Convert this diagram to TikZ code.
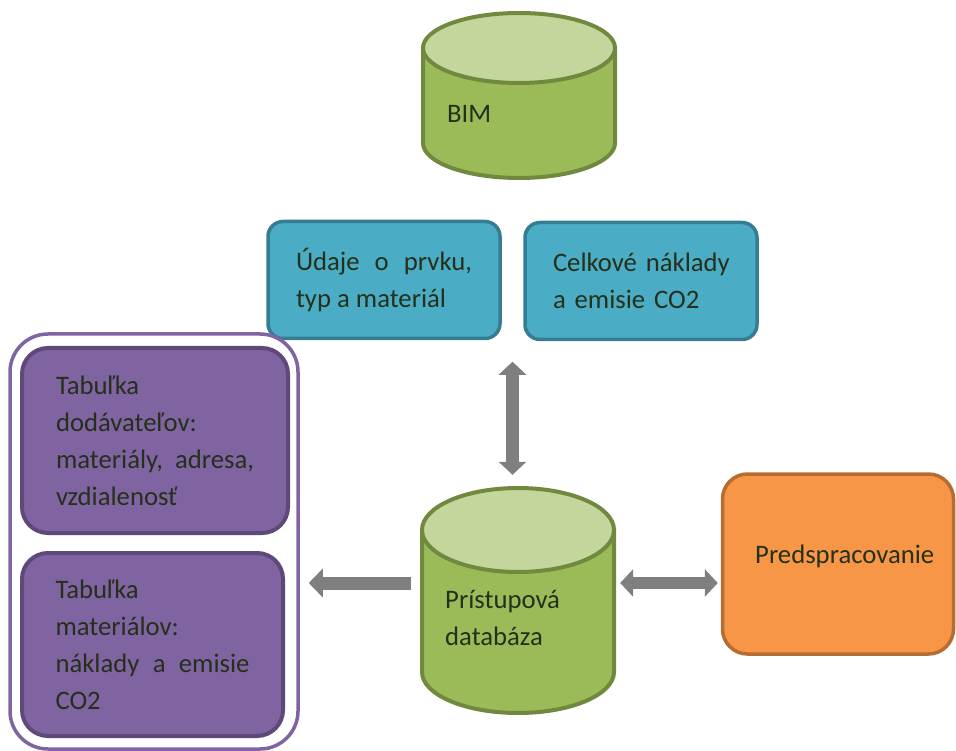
\documentclass[tikz,border=0pt]{standalone}
\usepackage{fontspec}
\setmainfont{Carlito}
\usetikzlibrary{arrows.meta,calc}

\definecolor{ink}{RGB}{36,48,25}
\definecolor{cylbodyfill}{RGB}{155,187,89}
\definecolor{cyltopfill}{RGB}{195,214,155}
\definecolor{cylline}{RGB}{113,137,62}
\definecolor{bluefill}{RGB}{75,172,198}
\definecolor{blueline}{RGB}{53,126,145}
\definecolor{purplefill}{RGB}{128,100,162}
\definecolor{purpleline}{RGB}{94,73,122}
\definecolor{orangefill}{RGB}{247,150,70}
\definecolor{orangeline}{RGB}{182,109,49}
\definecolor{arrowgray}{RGB}{127,127,127}

\begin{document}
\begin{tikzpicture}[x=1pt,y=1pt,
  txt/.style={text=ink,inner sep=0pt,font=\fontsize{26.7}{37}\selectfont},
  bluebox/.style={txt,draw=blueline,fill=bluefill,line width=3.5pt,rounded corners=15pt,
    minimum width=232pt,minimum height=117pt,text width=176pt,align=justify},
  purplebox/.style={txt,draw=purpleline,fill=purplefill,line width=4pt,rounded corners=26pt,
    align=justify},
  cylbody/.style={draw=cylline,fill=cylbodyfill,line width=4pt},
  cyltop/.style={draw=cylline,fill=cyltopfill,line width=4pt},
  onearrow/.style={draw=arrowgray,line width=13pt,-{Triangle[width=28pt,length=14pt]}},
  dblarrow/.style={draw=arrowgray,line width=12.5pt,
    {Triangle[width=27pt,length=13pt]}-{Triangle[width=27pt,length=13pt]}}]
\useasboundingbox (0,0) rectangle (956,-751);

% BIM cylinder
\filldraw[cylbody] (423,-48) -- (423,-143) arc[start angle=180,end angle=360,x radius=96,y radius=35] -- (615,-48) -- cycle;
\filldraw[cyltop] (519,-48) ellipse[x radius=96,y radius=35];
\node[txt,anchor=base west] (bimlabel) at (447,-123) {BIM};

% Output boxes
\node[bluebox] (udaje) at (384,-280) {Údaje o prvku,\linebreak typ a materiál};
\node[bluebox,align=left] (celk) at (641,-281) {\mbox{Celkové náklady}\\\mbox{a emisie CO2}};

% Tables
\node[draw=purplefill,fill=white,line width=3.5pt,rounded corners=38pt,
  minimum width=288pt,minimum height=415pt] (tables) at (154,-541.5) {};
\node[purplebox,minimum width=266pt,minimum height=185pt,text width=198pt] (supp) at (155,-440.5)
  {Tabuľka\\dodávateľov:\\materiály, adresa,\linebreak vzdialenosť};
\node[purplebox,minimum width=261pt,minimum height=183pt,text width=194pt] (mats) at (152.5,-644.5)
  {Tabuľka\\materiálov:\\náklady a emisie\linebreak CO2};

% Access database cylinder
\filldraw[cylbody] (422,-530) -- (422,-672) arc[start angle=180,end angle=360,x radius=96,y radius=41] -- (614,-530) -- cycle;
\filldraw[cyltop] (518,-530) ellipse[x radius=96,y radius=42];
\node[minimum width=196pt,minimum height=226pt,inner sep=0pt] (db) at (518,-600) {};
\node[txt,anchor=base west,text width=160pt,align=left] (dblabel) at (445,-608) {Prístupová\\databáza};

% Preprocessing
\node[draw=orangeline,fill=orangefill,line width=3.5pt,rounded corners=25pt,
  minimum width=231pt,minimum height=180pt] (prep) at (838,-564) {};
\node[txt,anchor=base west] (preplabel) at (755,-563) {Predspracovanie};

% Arrows
\coordinate (gap) at ($(udaje.south east)!.5!(celk.south west)$);
\draw[dblarrow,shorten <=21pt,shorten >=12pt] (gap) -- (gap |- db.north);
\draw[onearrow,shorten <=9pt,shorten >=9pt] ([yshift=17pt]db.west) -- ([yshift=17pt]db.west -| tables.east);
\draw[dblarrow,shorten <=4pt,shorten >=3pt] ([yshift=17pt]db.east) -- ([yshift=17pt]db.east -| prep.west);
\end{tikzpicture}
\end{document}
